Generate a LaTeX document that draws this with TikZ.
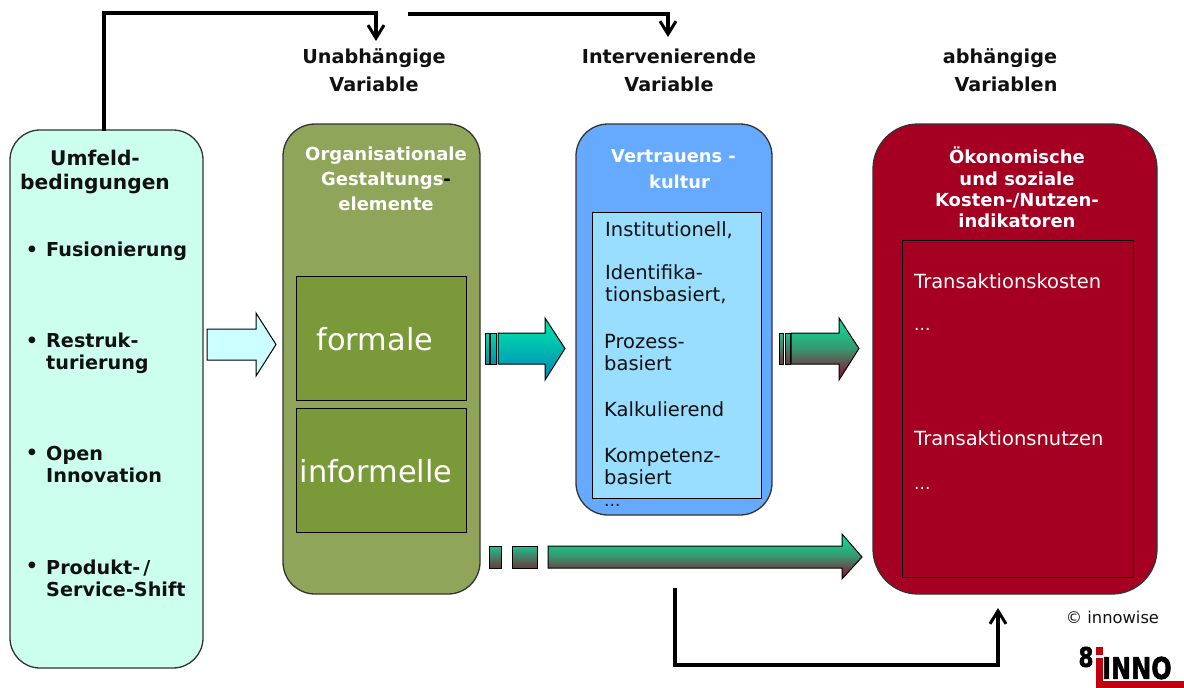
\documentclass[tikz,border=0pt]{standalone}
\usepackage{fontspec}
\setmainfont{DejaVu Sans}
\usetikzlibrary{arrows.meta}
\definecolor{lefffill}{HTML}{CCFFEE}
\definecolor{cyanarrow}{HTML}{CCFFFF}
\definecolor{olive}{HTML}{8FA65A}
\definecolor{oliveinner}{HTML}{7A9A3A}
\definecolor{bluebox}{HTML}{66AAFF}
\definecolor{blueinner}{HTML}{99DDFF}
\definecolor{redbox}{HTML}{A50021}
\definecolor{logored}{HTML}{C00010}
\definecolor{arrowtop}{HTML}{00E8A8}
\definecolor{arrowblue}{HTML}{0088B8}
\definecolor{bartop}{HTML}{00D8A8}
\definecolor{barblue}{HTML}{0090A8}
\definecolor{arrowgreen}{HTML}{08E8A0}
\definecolor{arrowmid}{HTML}{38946E}
\definecolor{arrowred}{HTML}{980028}
\definecolor{rectop}{HTML}{20C090}
\definecolor{recbot}{HTML}{6B3A3A}
\definecolor{txt}{HTML}{111111}
\tikzset{
  x=1pt,y=-1pt,
  panel/.style={draw=black!80,line width=1.3pt,anchor=north west,inner sep=0pt,outer sep=0pt},
  innerbox/.style={draw=black,line width=1pt,anchor=north west,inner sep=0pt,outer sep=0pt},
  conn/.style={draw=black,line width=3.2pt,line join=miter,-{Straight Barb[length=13pt,width=16pt,line width=3pt]}},
  head/.style={font=\bfseries\fontsize{19.2}{28}\selectfont,align=center,text=txt,inner sep=0pt},
  item/.style={font=\bfseries\fontsize{19.2}{22}\selectfont,align=left,anchor=west,text=txt,inner sep=0pt},
  wt/.style={text=white,inner sep=0pt},
  wthead/.style={wt,font=\bfseries\fontsize{18}{21.3}\selectfont,align=center},
  bluetxt/.style={font=\fontsize{19.5}{22}\selectfont,align=left,anchor=west,text=txt,inner sep=0pt},
  redtxt/.style={wt,font=\fontsize{19.5}{22}\selectfont,anchor=west},
  dots/.style={font=\fontsize{17}{18}\selectfont},
  bigarrow/.style={draw=black,line width=1pt,line join=miter},
  blueshade/.style={bigarrow,top color=arrowtop,bottom color=arrowblue},
  bluebar/.style={bigarrow,top color=bartop,bottom color=barblue},
  redshade/.style={bigarrow,top color=arrowgreen,bottom color=arrowred,middle color=arrowmid},
  redbar/.style={bigarrow,top color=rectop,bottom color=recbot},
}
\begin{document}
\begin{tikzpicture}
\useasboundingbox (0,0) rectangle (1184,688);
% panels
\node[panel,fill=lefffill,rounded corners=30pt,minimum width=193pt,minimum height=538pt] (umfeld) at (10,130) {};
\node[panel,fill=olive,rounded corners=32pt,minimum width=197pt,minimum height=470pt] (orga) at (283,124) {};
\node[panel,fill=bluebox,rounded corners=32pt,minimum width=196pt,minimum height=391pt] (vertrauen) at (576,124) {};
\node[panel,fill=redbox,rounded corners=45pt,minimum width=284pt,minimum height=470pt] (oeko) at (873,124) {};
\node[innerbox,fill=oliveinner,minimum width=170pt,minimum height=124pt] (formal) at (296,276) {};
\node[innerbox,fill=oliveinner,minimum width=170pt,minimum height=124pt] (informal) at (296,408) {};
\node[innerbox,fill=blueinner,minimum width=169pt,minimum height=286pt] (blueinner) at (592,212) {};
\node[innerbox,fill=redbox,minimum width=231pt,minimum height=337pt] (redinner) at (902,240) {};
% headings
\node[head] (h1) at (374,70) {Unabhängige\\Variable};
\node[head] (h2) at (669,70) {Intervenierende\\Variable};
\node[head] (h3) at (1000,70) {abhängige\\\hspace*{12pt}Variablen};
% left panel
\node[head,font=\bfseries\fontsize{20.2}{24}\selectfont,align=center] (t1) at (95,172) {Umfeld-\\bedingungen};
\foreach \n/\y/\t in {a/251/Fusionierung,b/353.5/{Restruk-\\turierung},c/465/{Open\\Innovation},d/578/{Produkt-\,/\\Service-Shift}}{
  \node[item] (it\n) at (46,\y) {\t};
}
\foreach \n/\y in {a/251,b/342,c/454,d/567}{
  \node[item,anchor=center] (bu\n) at (32,\y) {•};
}
% green panel
\node[wthead,font=\bfseries\fontsize{18}{25}\selectfont] (t2) at (386,179) {Organisationale\\Gestaltungs\textcolor{black}{-}\\elemente};
\node[wt,font=\fontsize{30.4}{32}\selectfont] (t3) at (375,339) {formale};
\node[wt,font=\fontsize{30.4}{32}\selectfont] (t4) at (376,471) {informelle};
% blue panel
\node[wthead,font=\bfseries\fontsize{17.8}{26}\selectfont] (t5) at (673.5,169) {Vertrauens -\\\hspace*{12pt}kultur};
\node[bluetxt] (b1) at (605,230) {Institutionell,};
\node[bluetxt] (b2) at (605,284) {Identifika-\\tionsbasiert,};
\node[bluetxt] (b3) at (604,353) {Prozess-\\basiert};
\node[bluetxt] (b4) at (604,409) {Kalkulierend};
\node[bluetxt] (b5) at (604,467) {Kompetenz-\\basiert};
\node[bluetxt,dots] (b6) at (604,505) {...};
% red panel
\node[wthead] (t6) at (1017,187.5) {Ökonomische\\und soziale\\Kosten-/Nutzen-\\indikatoren};
\node[redtxt] (r1) at (914,281) {Transaktionskosten};
\node[redtxt,dots] (r2) at (914,329) {...};
\node[redtxt] (r3) at (914,438) {Transaktionsnutzen};
\node[redtxt,dots] (r4) at (914,488) {...};
% block arrows
\draw[bigarrow,fill=cyanarrow] (207,329)--(256,329)--(256,313)--(276,344.5)--(256,376)--(256,360)--(207,360)--cycle;
\shade[bluebar] (485,333) rectangle (489,364);
\shade[bluebar] (490.5,333) rectangle (496,364);
\shade[blueshade] (498,333)--(545,333)--(545,318)--(565,348.5)--(545,380)--(545,364)--(498,364)--cycle;
\shade[redbar] (779,333) rectangle (783,364);
\shade[redbar] (785,333) rectangle (790,364);
\shade[redshade] (791,333)--(839,333)--(839,318)--(859,348.5)--(839,380)--(839,364)--(791,364)--cycle;
\shade[redbar] (489,546) rectangle (501,568);
\shade[redbar] (512,546) rectangle (537,568);
\shade[redshade] (548,546)--(842,546)--(842,534)--(862,557)--(842,579)--(842,568)--(548,568)--cycle;
% connectors
\coordinate (c1a) at (104,131);
\coordinate (c1b) at (376,41);
\draw[conn] (c1a) -- (104,13) -- (376,13) -- (c1b);
\coordinate (c2a) at (408,14);
\coordinate (c2b) at (668,37);
\draw[conn] (c2a) -- (668,14) -- (c2b);
\coordinate (c3a) at (675,588);
\coordinate (c3b) at (998,608);
\draw[conn] (c3a) -- (675,665) -- (998,665) -- (c3b);
% copyright & logo
\node[font=\fontsize{16.3}{18}\selectfont,text=txt,inner sep=0pt] (copy) at (1112.5,617) {© innowise};
\fill[logored] (1096,647) rectangle (1103,655);
\fill[logored] (1096,658) rectangle (1103,688);
\fill[logored] (1096,681) rectangle (1184,688);
\node[font=\bfseries\fontsize{27}{27}\selectfont,inner sep=0pt,xscale=.8,text=black] (logo8) at (1086,657) {\addfontfeatures{FakeBold=2}8};
\node[font=\bfseries\fontsize{30}{30}\selectfont,inner sep=0pt,anchor=west,xscale=.8,text=black] (logo) at (1102,668) {\addfontfeatures{FakeBold=2}INNO};
\end{tikzpicture}
\end{document}
